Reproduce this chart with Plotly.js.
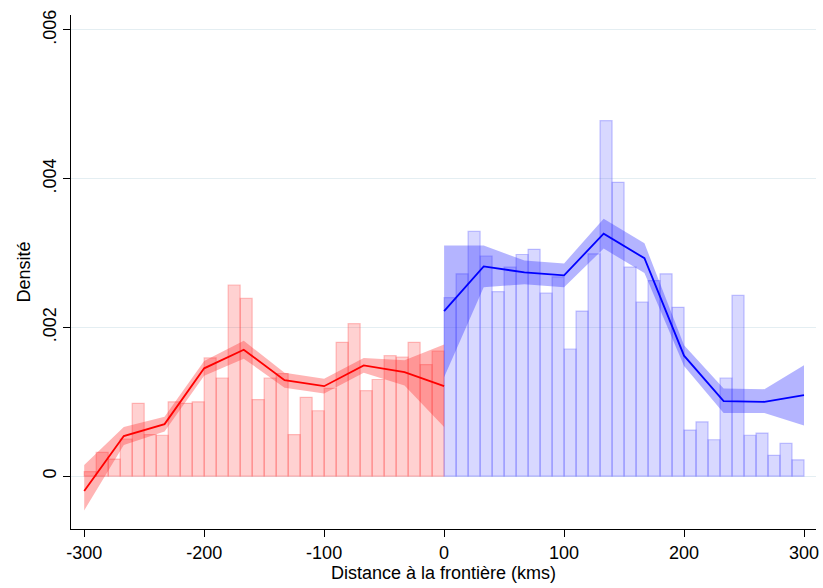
<!DOCTYPE html>
<html>
<head>
<meta charset="utf-8">
<script src="https://cdn.plot.ly/plotly-3.0.1.min.js"></script>
<style>html,body{margin:0;padding:0;background:#fff}</style>
</head>
<body>
<div id="chart" style="width:823px;height:588px"></div>
<script>
const leftBins = [-295,-285,-275,-265,-255,-245,-235,-225,-215,-205,-195,-185,-175,-165,-155,-145,-135,-125,-115,-105,-95,-85,-75,-65,-55,-45,-35,-25,-15,-5];
const leftDensity = [0.00006,0.00032,0.00023,0.0005,0.00098,0.00056,0.00055,0.001,0.00098,0.001,0.00159,0.00132,0.00257,0.00239,0.00103,0.00132,0.00138,0.00056,0.00106,0.00088,0.00118,0.0018,0.00205,0.00115,0.0013,0.00162,0.0016,0.0018,0.0015,0.00168];
const rightBins = [5,15,25,35,45,55,65,75,85,95,105,115,125,135,145,155,165,175,185,195,205,215,225,235,245,255,265,275,285,295];
const rightDensity = [0.0024,0.00272,0.00329,0.00296,0.00248,0.00281,0.00298,0.00305,0.00246,0.00268,0.00171,0.00222,0.00299,0.00478,0.00395,0.00281,0.00234,0.00263,0.00272,0.00227,0.00062,0.00073,0.00049,0.00132,0.00243,0.00055,0.00058,0.00028,0.00044,0.00022];

const leftX = [-300,-267,-233,-200,-167,-133,-100,-67,-33,0];
const leftFit = [-0.0002,0.00054,0.0007,0.00145,0.0017,0.00129,0.00121,0.00149,0.0014,0.00121];
const leftLow = [-0.00046,0.00042,0.0006,0.00135,0.00158,0.00119,0.00111,0.00139,0.00122,0.00066];
const leftHigh = [0.00015,0.00066,0.0008,0.00155,0.00182,0.00139,0.00131,0.00159,0.00156,0.00177];
const rightX = [0,33,67,100,133,167,200,233,267,300];
const rightFit = [0.00222,0.00282,0.00274,0.0027,0.00326,0.00293,0.00162,0.00101,0.001,0.00109];
const rightLow = [0.00133,0.00254,0.00258,0.00254,0.00306,0.00273,0.00148,0.00085,0.00085,0.00068];
const rightHigh = [0.0031,0.0031,0.0029,0.00286,0.00346,0.00313,0.00176,0.00118,0.00117,0.00149];

const xTicks = [-300,-200,-100,0,100,200,300];
const xTickText = ["-300","-200","-100","0","100","200","300"];
const yTicks = [0, 0.002, 0.004, 0.006];
const yTickText = ["0", ".002", ".004", ".006"];

function bars(x, y, fill, edge) {
    return {
        type: "bar", x: x, y: y, width: 10,
        marker: { color: fill, line: { color: edge, width: 1.2 } },
        hoverinfo: "skip", showlegend: false,
    };
}
function band(x, lo, hi, fill) {
    return {
        type: "scatter", mode: "lines",
        x: x.concat(x.slice().reverse()),
        y: hi.concat(lo.slice().reverse()),
        fill: "toself", fillcolor: fill, line: { width: 0 },
        hoverinfo: "skip", showlegend: false,
    };
}
function fit(x, y, color) {
    return {
        type: "scatter", mode: "lines", x: x, y: y,
        line: { color: color, width: 1.8 }, showlegend: false,
    };
}

const traces = [
    bars(leftBins, leftDensity, "rgba(255,0,0,0.18)", "rgba(255,80,80,0.35)"),
    bars(rightBins, rightDensity, "rgba(60,60,255,0.2)", "rgba(90,90,255,0.35)"),
    band(leftX, leftLow, leftHigh, "rgba(255,40,40,0.35)"),
    band(rightX, rightLow, rightHigh, "rgba(40,40,255,0.35)"),
    fit(leftX, leftFit, "#ff0000"),
    fit(rightX, rightFit, "#0000ff"),
];

Plotly.newPlot("chart", traces, {
    width: 823, height: 588,
    margin: { l: 71, r: 7, t: 15, b: 59 },
    paper_bgcolor: "#fff", plot_bgcolor: "#fff",
    font: { family: "\"Liberation Sans\", Arial, sans-serif", color: "#000", size: 18 },
    barmode: "overlay",
    xaxis: {
        range: [-311, 310], tickvals: xTicks, ticktext: xTickText,
        ticks: "outside", ticklen: 7, tickcolor: "#000",
        showline: true, linecolor: "#000", linewidth: 1.2,
        showgrid: false, zeroline: false,
        title: { text: "Distance à la frontière (kms)", standoff: 0, font: { size: 18 } },
    },
    yaxis: {
        range: [-0.00071, 0.0062], tickvals: yTicks, ticktext: yTickText, tickangle: -90,
        ticks: "outside", ticklen: 7, tickcolor: "#000",
        showline: true, linecolor: "#000", linewidth: 1.2,
        showgrid: true, gridcolor: "#e4eef2", zeroline: false,
        title: { text: "Densité", standoff: 4, font: { size: 18 } },
    },
}, { displayModeBar: false });
</script>
</body>
</html>
